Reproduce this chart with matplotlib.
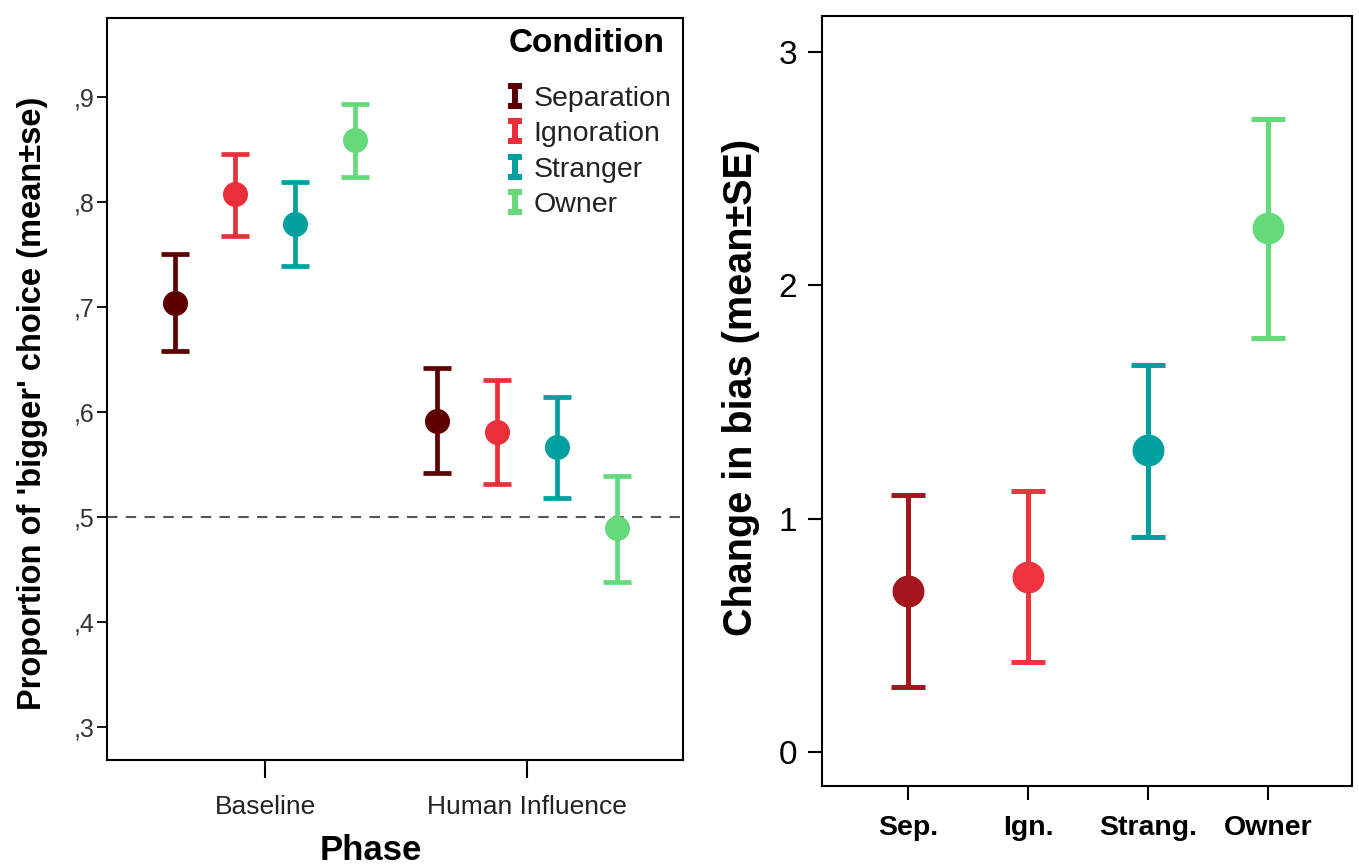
import matplotlib
matplotlib.use("Agg")
import matplotlib.pyplot as plt
import numpy as np
from matplotlib.path import Path
from matplotlib.lines import Line2D

# ---------------- data ----------------
conditions = ["Separation", "Ignoration", "Stranger", "Owner"]
phases = ["Baseline", "Human Influence"]
# left panel: proportion of 'bigger' choice, mean, lower, upper (per phase, per condition)
left_mean = {
    "Baseline":        [0.704, 0.807, 0.779, 0.859],
    "Human Influence": [0.591, 0.581, 0.567, 0.489],
}
left_low = {
    "Baseline":        [0.658, 0.767, 0.739, 0.824],
    "Human Influence": [0.542, 0.531, 0.518, 0.438],
}
left_high = {
    "Baseline":        [0.750, 0.846, 0.819, 0.893],
    "Human Influence": [0.642, 0.630, 0.614, 0.539],
}
left_ticks = [0.3, 0.4, 0.5, 0.6, 0.7, 0.8, 0.9]
left_ticklabels = [",3", ",4", ",5", ",6", ",7", ",8", ",9"]

# right panel: change in bias
right_cats = ["Sep.", "Ign.", "Strang.", "Owner"]
right_mean = [0.69, 0.75, 1.293, 2.244]
right_low = [0.28, 0.385, 0.92, 1.773]
right_high = [1.10, 1.12, 1.657, 2.711]
right_ticks = [0, 1, 2, 3]

left_colors = ["#5e0000", "#ea2f3a", "#00a0a0", "#66d97a"]
right_colors = ["#a3161d", "#ef3440", "#00a0a0", "#66d97a"]

NARROW = ["Liberation Sans Narrow", "Liberation Sans", "DejaVu Sans"]
SANS = ["Liberation Sans", "DejaVu Sans"]

fig = plt.figure(figsize=(13.59, 8.66), dpi=100)
fig.patch.set_facecolor("white")

# ---------------- left panel ----------------
axL = fig.add_axes([107/1359, 1-760/866, 576/1359, 742/866])
offsets = [-0.345, -0.115, 0.115, 0.345]
for pi, ph in enumerate(phases):
    for ci in range(len(conditions)):
        m = left_mean[ph][ci]
        lo = left_low[ph][ci]
        hi = left_high[ph][ci]
        axL.errorbar(pi + offsets[ci], m, yerr=[[m - lo], [hi - m]],
                     fmt="o", color=left_colors[ci], ms=17, mec=left_colors[ci],
                     elinewidth=3.4, capsize=10, capthick=3.4, zorder=3)

axL.axhline(0.5, color="#555555", ls=(0, (5, 4)), lw=1.5, zorder=1)
axL.set_xlim(-0.603, 1.595)
axL.set_ylim(0.2686, 0.975)
axL.set_xticks(range(len(phases)))
axL.set_xticklabels(phases, fontsize=19, family=NARROW, color="#222222")
axL.set_yticks(left_ticks)
axL.set_yticklabels(left_ticklabels, fontsize=18, family=NARROW, color="#333333")
axL.tick_params(axis="y", length=7, width=1.3, pad=2)
axL.tick_params(axis="x", length=13, width=1.5, pad=12)
for s in axL.spines.values():
    s.set_linewidth(1.5)
axL.set_ylabel("Proportion of 'bigger' choice (mean\u00b1se)", fontsize=23.5,
               fontweight="bold", family=SANS)
axL.yaxis.set_label_coords((48 - 107) / 576, (760 - 403) / 742)
axL.set_xlabel("Phase", fontsize=25, fontweight="bold", family=SANS)
axL.xaxis.set_label_coords((371 - 107) / 576, -(850 - 760) / 742)
axL.xaxis.label.set_verticalalignment("center")

# legend with I-beam handles
ibeam = Path([(-0.5, 1), (0.5, 1), (0.5, 0.55), (0.22, 0.55), (0.22, -0.55),
              (0.5, -0.55), (0.5, -1), (-0.5, -1), (-0.5, -0.55), (-0.22, -0.55),
              (-0.22, 0.55), (-0.5, 0.55), (-0.5, 1)], closed=True)
handles = [Line2D([], [], ls="none", marker=ibeam, ms=19, color=c, mew=0)
           for c in left_colors]
leg = axL.legend(handles, conditions, loc="upper left",
                 bbox_to_anchor=((506.5 - 107) / 576, (760 - 86) / 742),
                 frameon=False, handlelength=0.6, handletextpad=0.35, labelspacing=0.33,
                 prop={"family": NARROW, "size": 20.5},
                 borderaxespad=0, borderpad=0)
for t in leg.get_texts():
    t.set_color("#222222")
axL.text((509 - 107) / 576, (760 - 44) / 742, "Condition", transform=axL.transAxes,
         ha="left", va="center", fontsize=24, fontweight="bold", family=SANS)

# ---------------- right panel ----------------
axR = fig.add_axes([822/1359, 1-786/866, 530/1359, 770/866])
xr = np.arange(len(right_cats))
for i in range(len(right_cats)):
    m = right_mean[i]
    axR.errorbar(xr[i], m, yerr=[[m - right_low[i]], [right_high[i] - m]],
                 fmt="o", color=right_colors[i], ms=22, mec=right_colors[i],
                 elinewidth=3.6, capsize=12, capthick=3.6, zorder=3)
axR.set_xlim(-0.717, 3.7)
axR.set_ylim(-0.146, 3.154)
axR.set_xticks(xr)
axR.set_xticklabels(right_cats, fontsize=20.5, fontweight="bold", family=SANS)
axR.set_yticks(right_ticks)
axR.set_yticklabels([str(t) for t in right_ticks], fontsize=24, family=SANS)
axR.tick_params(axis="y", length=10, width=1.5, pad=8)
axR.tick_params(axis="x", length=10, width=1.5, pad=11)
for s in axR.spines.values():
    s.set_linewidth(1.5)
axR.set_ylabel("Change in bias (mean\u00b1SE)", fontsize=28.5, fontweight="bold",
               family=SANS)
axR.yaxis.set_label_coords((760 - 822) / 530, (786 - 387) / 770)

fig.savefig("out.png", dpi=100, facecolor="white")
